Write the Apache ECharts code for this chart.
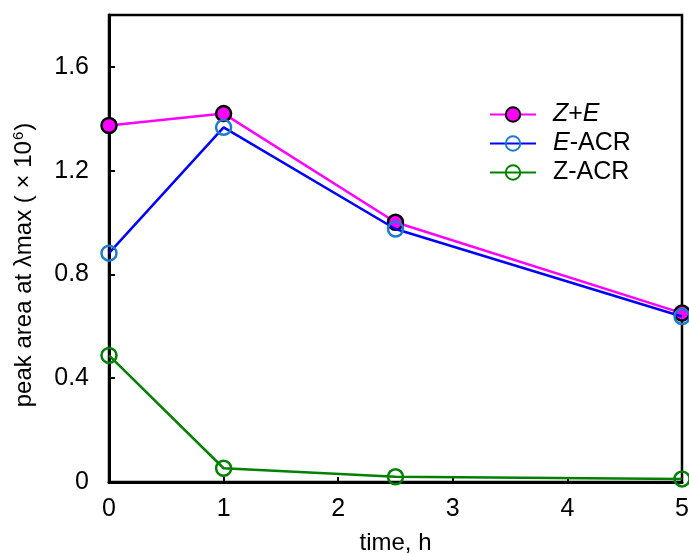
<!DOCTYPE html>
<html>
<head>
<meta charset="utf-8">
<script src="https://cdn.jsdelivr.net/npm/echarts@6/dist/echarts.min.js"></script>
<style>
  html, body { margin: 0; padding: 0; background: #fff; }
  #chart { width: 689px; height: 553px; }
</style>
</head>
<body>
<div id="chart"></div>
<script>
// Sampling times (h)
const times = [0, 1, 2.5, 5];
// Peak areas at λmax (×10^6)
const zPlusE = [1.374, 1.420, 1.001, 0.651];
const eACR = [0.882, 1.367, 0.975, 0.638];
const zACR = [0.488, 0.053, 0.020, 0.012];
const seriesNames = ['Z+E', 'E-ACR', 'Z-ACR'];
const yTicks = [0, 0.4, 0.8, 1.2, 1.6];

const FONT = '"Liberation Sans", Arial, sans-serif';
const FS = 24;      // axis titles
const FS_TICK = 25; // tick labels
const FS_LEG = 25;  // legend entries
const pairs = (ys) => times.map((t, i) => [t, ys[i]]);

const chart = echarts.init(document.getElementById('chart'), null, { renderer: 'canvas' });

chart.setOption({
  animation: false,
  backgroundColor: '#ffffff',
  textStyle: { fontFamily: FONT },
  grid: {
    left: 109, right: 7, top: 15, bottom: 71,
    show: true, borderColor: '#000', borderWidth: 2.5,
    containLabel: false,
    outerBoundsMode: 'none'
  },
  legend: {
    data: seriesNames,
    orient: 'vertical',
    left: 484,
    top: 97,
    itemWidth: 46,
    itemHeight: 18,
    itemGap: 4,
    textStyle: {
      fontFamily: FONT, fontSize: FS_LEG, color: '#000', padding: [0, 0, 0, 12],
      rich: {
        it: { fontFamily: FONT, fontSize: FS_LEG, fontStyle: 'italic', color: '#000' },
        up: { fontFamily: FONT, fontSize: FS_LEG, color: '#000' }
      }
    },
    formatter: function (name) {
      if (name === 'Z+E') return '{it|Z}{up|+}{it|E}';
      if (name === 'E-ACR') return '{it|E}{up|-ACR}';
      return '{up|Z-ACR}';
    }
  },
  xAxis: {
    type: 'value',
    min: 0, max: 5, interval: 1,
    name: 'time, h',
    nameLocation: 'middle',
    nameGap: 49,
    nameTextStyle: { fontFamily: FONT, fontSize: FS, color: '#000' },
    axisLine: { show: true, lineStyle: { color: '#000', width: 3 } },
    axisTick: { show: true, inside: true, length: 5, lineStyle: { color: '#000', width: 2 } },
    axisLabel: { fontFamily: FONT, fontSize: FS_TICK, color: '#000', margin: 15, hideOverlap: false },
    splitLine: { show: false }
  },
  yAxis: {
    type: 'value',
    min: 0, max: 1.8, interval: 0.4,
    axisLine: { show: true, lineStyle: { color: '#000', width: 3 } },
    axisTick: { show: true, inside: true, length: 6, lineStyle: { color: '#000', width: 2 } },
    axisLabel: {
      fontFamily: FONT, fontSize: FS_TICK, color: '#000', margin: 20,
      showMaxLabel: false,
      formatter: function (v) {
        const hit = yTicks.find(t => Math.abs(t - v) < 1e-6);
        return hit === undefined ? '' : String(hit);
      }
    },
    splitLine: { show: false }
  },
  graphic: [{
    type: 'text',
    x: 24, y: 265,
    rotation: Math.PI / 2,
    style: {
      text: '{t|peak area at λmax ( × 10}{s|6}{t|)}',
      align: 'center',
      verticalAlign: 'middle',
      rich: {
        t: { fontFamily: FONT, fontSize: FS, color: '#000' },
        s: { fontFamily: FONT, fontSize: 15, color: '#000', verticalAlign: 'top', padding: [0, 1, 11, 1] }
      }
    }
  }],
  series: [
    {
      name: 'Z+E', type: 'line', data: pairs(zPlusE), clip: false,
      symbol: 'circle', symbolSize: 15,
      lineStyle: { color: '#ff00ff', width: 2.5 },
      itemStyle: { color: '#ff00ff', borderColor: '#000', borderWidth: 2.5 },
      z: 2
    },
    {
      name: 'E-ACR', type: 'line', data: pairs(eACR), clip: false,
      symbol: 'circle', symbolSize: 15,
      lineStyle: { color: '#0000ff', width: 2.5 },
      itemStyle: { color: 'rgba(255,255,255,0)', borderColor: '#1f7ccc', borderWidth: 2.5 },
      z: 3
    },
    {
      name: 'Z-ACR', type: 'line', data: pairs(zACR), clip: false,
      symbol: 'circle', symbolSize: 15,
      lineStyle: { color: '#008000', width: 2.5 },
      itemStyle: { color: 'rgba(255,255,255,0)', borderColor: '#008000', borderWidth: 2.5 },
      z: 4
    }
  ]
});
</script>
</body>
</html>
